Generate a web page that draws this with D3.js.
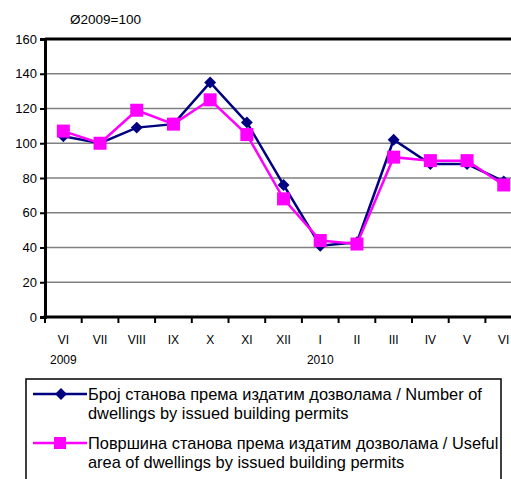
<!DOCTYPE html>
<html>
<head>
<meta charset="utf-8">
<script src="https://cdn.jsdelivr.net/npm/d3@7"></script>
<style>
  body { margin: 0; background: #fff; }
  svg { display: block; font-family: "Liberation Sans", Arial, sans-serif; }
</style>
</head>
<body>
<svg id="chart" width="511" height="479"></svg>
<script>
const months = ["VI", "VII", "VIII", "IX", "X", "XI", "XII", "I", "II", "III", "IV", "V", "VI"];
const years = [{ idx: 0, label: "2009" }, { idx: 7, label: "2010" }];
const dwellings = [104, 100, 109, 111, 135, 112, 76, 41, 43, 102, 88, 88, 78];
const area = [107, 100, 119, 111, 125, 105, 68, 44, 42, 92, 90, 90, 76];
const yTicks = [0, 20, 40, 60, 80, 100, 120, 140, 160];
const legendLabels = [
  ["Број станова према издатим дозволама / Number of", "dwellings by issued building permits"],
  ["Површина станова према издатим дозволама / Useful", "area of dwellings by issued building permits"]
];

const svg = d3.select("#chart");
const plotLeft = 45, plotTop = 39, plotBottom = 317;
const band = 36.7;

const x = d3.scaleBand()
  .domain(d3.range(months.length))
  .range([plotLeft, plotLeft + band * months.length]);
const y = d3.scaleLinear().domain([0, 160]).range([plotBottom, plotTop]);

// grid lines
svg.append("g").selectAll("line")
  .data(yTicks.filter(d => d > 0 && d < 160))
  .join("line")
  .attr("x1", plotLeft).attr("x2", 511)
  .attr("y1", d => y(d)).attr("y2", d => y(d))
  .attr("stroke", "#808080").attr("stroke-width", 1.5);

// top border
svg.append("line")
  .attr("x1", plotLeft).attr("x2", 511)
  .attr("y1", y(160)).attr("y2", y(160))
  .attr("stroke", "#000").attr("stroke-width", 3);

// y axis
const yAxis = svg.append("g")
  .attr("transform", "translate(" + plotLeft + ",0)")
  .call(d3.axisLeft(y).tickValues(yTicks).tickSize(5).tickPadding(3));
yAxis.select(".domain").attr("stroke-width", 3);
yAxis.selectAll(".tick line").attr("stroke-width", 2);
yAxis.selectAll("text").attr("font-size", 13).attr("fill", "#000")
  .attr("font-family", "Liberation Sans, Arial, sans-serif");

// x axis with ticks at band edges
const xg = svg.append("g");
xg.append("line")
  .attr("x1", plotLeft - 1.5).attr("x2", 511)
  .attr("y1", plotBottom).attr("y2", plotBottom)
  .attr("stroke", "#000").attr("stroke-width", 3);
xg.selectAll(".xt")
  .data(d3.range(months.length + 1))
  .join("line")
  .attr("x1", i => plotLeft + i * x.step()).attr("x2", i => plotLeft + i * x.step())
  .attr("y1", plotBottom).attr("y2", plotBottom + 6)
  .attr("stroke", "#000").attr("stroke-width", 2);
xg.selectAll(".xl")
  .data(months)
  .join("text")
  .attr("x", (d, i) => x(i) + x.bandwidth() / 2)
  .attr("y", 344)
  .attr("text-anchor", "middle")
  .attr("font-size", 12)
  .text(d => d);
xg.selectAll(".yl")
  .data(years)
  .join("text")
  .attr("x", d => x(d.idx) + x.bandwidth() / 2)
  .attr("y", 364)
  .attr("text-anchor", "middle")
  .attr("font-size", 12)
  .text(d => d.label);

// title
svg.append("text")
  .attr("x", 70).attr("y", 24)
  .attr("font-size", 13.5)
  .text("Ø2009=100");

const cx = i => x(i) + x.bandwidth() / 2;
const line = d3.line().x((d, i) => cx(i)).y(d => y(d));

svg.append("path").datum(dwellings)
  .attr("fill", "none").attr("stroke", "#000080").attr("stroke-width", 2.5)
  .attr("d", line);
svg.append("g").selectAll("path")
  .data(dwellings)
  .join("path")
  .attr("transform", (d, i) => "translate(" + cx(i) + "," + y(d) + ")")
  .attr("d", d3.symbol(d3.symbolDiamond2, 90)())
  .attr("fill", "#000080");

svg.append("path").datum(area)
  .attr("fill", "none").attr("stroke", "#ff00ff").attr("stroke-width", 2.5)
  .attr("d", line);
svg.append("g").selectAll("rect")
  .data(area)
  .join("rect")
  .attr("x", (d, i) => cx(i) - 6.5).attr("y", d => y(d) - 6.5)
  .attr("width", 13).attr("height", 13)
  .attr("fill", "#ff00ff");

// legend
const lg = svg.append("g");
lg.append("rect")
  .attr("x", 26).attr("y", 379)
  .attr("width", 475).attr("height", 120)
  .attr("fill", "#fff").attr("stroke", "#000").attr("stroke-width", 1.5);

const colors = ["#000080", "#ff00ff"];
const rowsY = [394, 443];
legendLabels.forEach((lines, k) => {
  const yy = rowsY[k];
  lg.append("line")
    .attr("x1", 33).attr("x2", 87)
    .attr("y1", yy).attr("y2", yy)
    .attr("stroke", colors[k]).attr("stroke-width", 2.5);
  if (k === 0) {
    lg.append("path")
      .attr("transform", "translate(61," + yy + ")")
      .attr("d", d3.symbol(d3.symbolDiamond2, 90)())
      .attr("fill", colors[k]);
  } else {
    lg.append("rect")
      .attr("x", 54).attr("y", yy - 6).attr("width", 12).attr("height", 12)
      .attr("fill", colors[k]);
  }
  lines.forEach((t, j) => {
    lg.append("text")
      .attr("x", 88).attr("y", yy + 6 + j * 19)
      .attr("font-size", 16.4)
      .text(t);
  });
});
</script>
</body>
</html>
